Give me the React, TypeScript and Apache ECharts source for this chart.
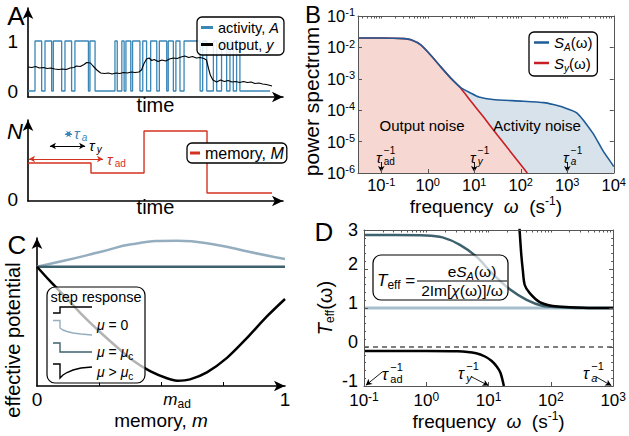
import React, { useEffect, useRef } from 'react';
import * as echarts from 'echarts';

const FONT = '"Liberation Sans", Arial, sans-serif';

// ===== Panel A (top): two-state activity A(t) and output y(t) =====
const activityTime = [0, 2.75, 5.36, 6.67, 9.28, 9.93, 13.2, 14.5, 17.1, 18.4, 23.7, 24.3, 26.3, 34.1, 35.0, 36.8, 37.7, 38.4, 40.3, 41.0, 43.9, 45.0, 46.5, 48.1, 50.5, 51.5, 54.4, 55.0, 57.0, 58.0, 59.6, 61.2, 67.5, 68.5, 70.1, 72.7, 74.0, 75.9, 77.9, 79.2, 80.5, 81.8, 83.1, 94.9];
const activityState = [0, 1, 0, 1, 0, 1, 0, 1, 0, 1, 0, 1, 0, 1, 0, 1, 0, 1, 0, 1, 0, 1, 0, 1, 0, 1, 0, 1, 0, 1, 0, 1, 0, 1, 0, 1, 0, 1, 0, 1, 0, 1, 0, 0];
const outputTime = [0, 1.5, 3, 4.5, 6, 7.5, 9, 10.5, 12, 13.5, 15, 16.5, 18, 19, 20.5, 22, 23, 24.5, 25.5, 27, 28.5, 30, 31.5, 33, 34.5, 36, 37.5, 39, 40.5, 42, 43.5, 44.5, 45.5, 46.5, 47.5, 48.5, 49.5, 51, 52.5, 54, 55.5, 57, 58.5, 60, 61.5, 63, 64.5, 66, 67.5, 69, 70, 70.8, 71.5, 72.5, 74, 75.5, 77, 78.5, 80, 81.5, 83, 84.5, 86, 87.5, 89, 90.5, 92, 93.5, 95.7];
const outputValue = [0.48, 0.47, 0.49, 0.46, 0.47, 0.45, 0.46, 0.44, 0.43, 0.44, 0.43, 0.46, 0.47, 0.50, 0.49, 0.53, 0.57, 0.56, 0.50, 0.42, 0.36, 0.35, 0.36, 0.34, 0.36, 0.35, 0.37, 0.36, 0.38, 0.37, 0.38, 0.42, 0.55, 0.64, 0.66, 0.61, 0.63, 0.59, 0.62, 0.60, 0.64, 0.66, 0.65, 0.68, 0.70, 0.67, 0.69, 0.66, 0.67, 0.65, 0.62, 0.45, 0.32, 0.22, 0.18, 0.22, 0.19, 0.21, 0.18, 0.19, 0.17, 0.19, 0.17, 0.18, 0.15, 0.16, 0.14, 0.13, 0.10];

// ===== Panel A (bottom): memory M(t) =====
const memoryTime = [0, 24.7, 45.5, 70.2, 95.7];
const memoryValue = [3.6, 2.6, 6.8, 0.6, 0.6];
// timescale arrows [t0, t1, level]
const tauAdArrow = [0.4, 29.4, 4.0];
const tauYArrow = [8.6, 22.4, 5.3];
const tauAArrow = [14.5, 17.3, 6.5];

// ===== Panel B: power spectra (log10 omega, log10 S) =====
const bLogOmegaA = [-1.5, -1, -0.5, -0.36, -0.15, 0.06, 0.28, 0.49, 0.71, 0.92, 1.1, 1.4, 2.0, 2.5, 2.7, 2.9, 3.21, 3.55, 3.76, 3.98, 4.0];
const bLogSA = [-1.70, -1.70, -1.72, -1.76, -1.92, -2.24, -2.62, -2.97, -3.28, -3.45, -3.58, -3.66, -3.71, -3.76, -3.82, -3.90, -4.09, -4.73, -5.27, -5.75, -5.80];
const bLogOmegaY = [-1.5, -1, -0.5, -0.36, -0.15, 0.06, 0.28, 0.49, 0.71, 0.92, 1.2, 1.5, 1.8, 2.14];
const bLogSy = [-1.70, -1.70, -1.72, -1.76, -1.92, -2.24, -2.62, -2.97, -3.30, -3.70, -4.22, -4.80, -5.36, -6.0];
const bDecadesX = [-1, 0, 1, 2, 3, 4];
const bMarkerOmega = [-1, 1, 3];

// ===== Panel C: effective potential vs memory m =====
const cMBlack = [0, 0.052, 0.121, 0.185, 0.254, 0.323, 0.387, 0.456, 0.524, 0.565, 0.617, 0.685, 0.766, 0.847, 0.927, 1];
const cPotAbove = [0.806, 0.71, 0.59, 0.475, 0.365, 0.262, 0.172, 0.100, 0.052, 0.036, 0.045, 0.092, 0.190, 0.325, 0.47, 0.588];
const cMLight = [0, 0.121, 0.254, 0.387, 0.565, 0.726, 0.859, 1];
const cPotZero = [0.806, 0.851, 0.905, 0.959, 0.982, 0.953, 0.905, 0.858];
const cMFlat = [0, 1];
const cPotCritical = [0.806, 0.806];
const cTicks = [0.25, 0.5, 0.75];
const cLabels = [0, 0.565, 1];

// ===== Panel D: T_eff(omega) =====
const dFlatOmega = [-1, 3];
const dZero = [0, 0];
const dUnit = [1, 1];
const dOmegaTeal = [-1, -0.5, 0, 0.26, 0.54, 0.81, 1.06, 1.34, 1.61, 1.86, 2.14, 2.46, 3];
const dTeal = [2.87, 2.87, 2.86, 2.81, 2.62, 2.31, 1.88, 1.48, 1.21, 1.06, 1.02, 1.0, 1.0];
const dOmegaHigh = [1.496, 1.523, 1.549, 1.58, 1.66, 1.82, 2.03, 2.30, 2.66, 3];
const dHigh = [3.04, 2.40, 1.97, 1.59, 1.38, 1.15, 1.05, 1.02, 1.0, 1.0];
const dOmegaLow = [-1, 0, 0.5, 0.8, 0.95, 1.05, 1.13, 1.19, 1.245];
const dLow = [-0.1, -0.1, -0.11, -0.16, -0.25, -0.36, -0.5, -0.66, -1.0];

const C_ACT = '#3a86b6';
const C_MEM = '#d3321f';
const C_BLUE = '#1f5c97';
const C_RED = '#c71f24';
const FILL_BLUE = '#d7e2eb';
const FILL_PINK = '#f6d7d1';
const C_LIGHT = '#94aebf';
const C_TEAL = '#3e616e';
const FRAME = '#555';

const zip = (xs: number[], ys: number[]) => xs.map((x, i) => [x, ys[i]]);

const logMinor = (lo: number, hi: number) => {
  const out: number[] = [];
  for (let n = Math.floor(lo); n <= Math.ceil(hi); n++) {
    for (let k = 1; k < 10; k++) {
      const v = n + Math.log10(k);
      if (v >= lo - 1e-9 && v <= hi + 1e-9) out.push(+v.toFixed(4));
    }
  }
  return out;
};

const powRich = (fs: number) => ({
  b: { fontSize: fs, fontFamily: FONT, color: '#000', lineHeight: fs + 2 },
  s: { fontSize: Math.round(fs * 0.68), fontFamily: FONT, color: '#000', verticalAlign: 'top', lineHeight: Math.round(fs * 0.68) + 1 },
});
const powLabel = (v: number) => `{b|10}{s|${Math.round(v)}}`;

const nameRich = (fs: number) => ({
  r: { fontSize: fs, fontFamily: FONT, color: '#000', lineHeight: fs + 3 },
  i: { fontSize: fs, fontFamily: FONT, fontStyle: 'italic', color: '#000', lineHeight: fs + 3 },
  sp: { fontSize: Math.round(fs * 0.62), fontFamily: FONT, color: '#000', verticalAlign: 'top', lineHeight: Math.round(fs * 0.62) + 2 },
  sb: { fontSize: Math.round(fs * 0.62), fontFamily: FONT, color: '#000', verticalAlign: 'bottom', lineHeight: Math.round(fs * 0.62) + 2 },
});

const arrowAxisLine = { show: true, onZero: false, symbol: ['none', 'arrow'], symbolSize: [8, 11], lineStyle: { color: '#000', width: 1.6 } };
const frameLine = { show: true, onZero: false, lineStyle: { color: FRAME, width: 1 } };
const noSplit = { show: false };

const txt = (text: string, x: number, y: number, fs: number, opts: any = {}) => ({
  type: 'text', z: 100, x, y, rotation: opts.rotation || 0,
  style: {
    text, x: 0, y: 0, fill: opts.color || '#000', fontSize: fs, fontFamily: FONT,
    fontStyle: opts.italic ? 'italic' : 'normal',
    textAlign: opts.align || 'center', textVerticalAlign: 'middle',
    rich: opts.rich,
  },
});

const tau = (x: number, y: number, sub: string, subItalic: boolean, sup: string | null, color: string, fs: number) => {
  const sfs = Math.round(fs * 0.68);
  const children: any[] = [
    { type: 'text', z: 100, style: { text: 'τ', x: 0, y: 0, fill: color, fontSize: fs, fontStyle: 'italic', fontFamily: FONT, textAlign: 'left', textVerticalAlign: 'middle' } },
    { type: 'text', z: 100, style: { text: sub, x: fs * 0.52, y: fs * 0.33, fill: color, fontSize: sfs, fontStyle: subItalic ? 'italic' : 'normal', fontFamily: FONT, textAlign: 'left', textVerticalAlign: 'middle' } },
  ];
  if (sup) children.push({ type: 'text', z: 100, style: { text: sup, x: fs * 0.52, y: -fs * 0.45, fill: color, fontSize: sfs, fontFamily: FONT, textAlign: 'left', textVerticalAlign: 'middle' } });
  return { type: 'group', x, y, z: 100, children };
};

const pl = (points: number[][], color: string, w = 1.4) => ({
  type: 'polyline', z: 101, shape: { points }, style: { stroke: color, lineWidth: w, fill: 'none' },
});

const smallRich = (fs: number) => ({
  r: { fontSize: fs, fontFamily: FONT, color: '#000', lineHeight: fs + 5 },
  i: { fontSize: fs, fontFamily: FONT, fontStyle: 'italic', color: '#000', lineHeight: fs + 5 },
  s: { fontSize: Math.round(fs * 0.68), fontFamily: FONT, color: '#000', verticalAlign: 'bottom', lineHeight: Math.round(fs * 0.68) + 1 },
  si: { fontSize: Math.round(fs * 0.68), fontFamily: FONT, fontStyle: 'italic', color: '#000', verticalAlign: 'bottom', lineHeight: Math.round(fs * 0.68) + 1 },
});

function buildOption(): any {
  const legendBase = {
    orient: 'vertical', icon: 'rect', selectedMode: false,
    borderColor: '#000', borderWidth: 1.3, borderRadius: 5,
  };
  const cLabelRich = {
    ...smallRich(17),
    big: { fontSize: 19, fontFamily: FONT, color: '#000', lineHeight: 22 },
  };
  const dYRich = {
    t: { fontSize: 18, fontFamily: FONT, color: '#000', lineHeight: 20 },
    v: { fontSize: 18, fontFamily: FONT, color: '#000', lineHeight: 20, padding: [0, 0, 10, 0] },
  };
  return {
    animation: false,
    textStyle: { fontFamily: FONT },
    grid: [
      { left: 28, top: 8, width: 255, height: 89 },
      { left: 28, top: 120, width: 255, height: 81 },
      { left: 358, top: 16, width: 256, height: 157 },
      { left: 37, top: 238, width: 248, height: 148 },
      { left: 364, top: 230, width: 250, height: 156 },
    ],
    legend: [
      {
        ...legendBase, data: ['activity', 'output'], left: 197, top: 17,
        itemWidth: 12, itemHeight: 3, itemGap: 2, padding: [3, 5, 3, 4],
        backgroundColor: 'rgba(255,255,255,0.85)',
        formatter: (n: string) => (n === 'activity' ? 'activity, {i|A}' : 'output, {i|y}'),
        textStyle: { fontSize: 14.5, fontFamily: FONT, color: '#000', rich: { i: { fontSize: 14.5, fontStyle: 'italic', fontFamily: FONT, color: '#000' } } },
      },
      {
        ...legendBase, data: ['memory'], left: 187, top: 143,
        itemWidth: 10, itemHeight: 3, padding: [2, 3, 2, 3],
        backgroundColor: '#fff',
        formatter: () => 'memory, {i|M}',
        textStyle: { fontSize: 16, fontFamily: FONT, color: '#000', rich: { i: { fontSize: 16, fontStyle: 'italic', fontFamily: FONT, color: '#000' } } },
      },
      {
        ...legendBase, data: ['S_A', 'S_y'], left: 529, top: 32,
        itemWidth: 15, itemHeight: 2.5, itemGap: 3, padding: [3, 5, 3, 5],
        backgroundColor: '#fff',
        formatter: (n: string) => (n === 'S_A' ? '{i|S}{s|A}{r|(ω)}' : '{i|S}{s|y}{r|(ω)}'),
        textStyle: {
          fontSize: 15, fontFamily: FONT, color: '#000',
          rich: {
            i: { fontSize: 15, fontStyle: 'italic', fontFamily: FONT, color: '#000', lineHeight: 20 },
            r: { fontSize: 15, fontFamily: FONT, color: '#000', lineHeight: 20 },
            s: { fontSize: 10, fontStyle: 'italic', fontFamily: FONT, color: '#000', verticalAlign: 'bottom', lineHeight: 11 },
          },
        },
      },
    ],
    xAxis: [
      {
        gridIndex: 0, type: 'value', min: 0, max: 100, axisLine: arrowAxisLine,
        axisTick: { show: false }, axisLabel: { show: false }, splitLine: noSplit,
        name: 'time', nameLocation: 'middle', nameGap: -2, nameMoveOverlap: false,
        nameTextStyle: { fontSize: 20, fontFamily: FONT, color: '#000', verticalAlign: 'top' },
      },
      {
        gridIndex: 1, type: 'value', min: 0, max: 100, axisLine: arrowAxisLine,
        axisTick: { show: false }, axisLabel: { show: false }, splitLine: noSplit,
        name: 'time', nameLocation: 'middle', nameGap: -4, nameMoveOverlap: false,
        nameTextStyle: { fontSize: 20, fontFamily: FONT, color: '#000', verticalAlign: 'top' },
      },
      {
        gridIndex: 2, type: 'value', min: -1.5, max: 4, position: 'bottom', z: 5,
        axisLine: frameLine,
        axisTick: { show: true, inside: true, length: 4, customValues: bDecadesX, lineStyle: { color: FRAME } },
        axisLabel: { customValues: bDecadesX, formatter: powLabel, margin: 3, rich: powRich(16.5) },
        splitLine: noSplit,
        name: '{r|frequency  }{i|ω}{r|  (s}{sp|-1}{r|)}', nameLocation: 'middle', nameGap: 22, nameMoveOverlap: false,
        nameTextStyle: { fontSize: 19, fontFamily: FONT, color: '#000', rich: nameRich(19) },
      },
      {
        gridIndex: 2, type: 'value', min: -1.5, max: 4, position: 'top', z: 5,
        axisLine: frameLine,
        axisTick: { show: true, inside: true, length: 2.5, customValues: logMinor(-1.5, 4), lineStyle: { color: FRAME } },
        axisLabel: { show: false }, splitLine: noSplit,
      },
      {
        gridIndex: 3, type: 'value', min: 0, max: 1, axisLine: arrowAxisLine,
        axisTick: { show: true, inside: true, length: 4, customValues: cTicks, lineStyle: { color: '#000' } },
        axisLabel: {
          customValues: cLabels, margin: 2, fontSize: 19, color: '#000',
          formatter: (v: number) => (v === 0 ? '{big|0}' : v === 1 ? '{big|1}' : '{i|m}{s|ad}'),
          rich: cLabelRich,
        },
        splitLine: noSplit,
        name: '{r|memory, }{i|m}', nameLocation: 'middle', nameGap: 23, nameMoveOverlap: false,
        nameTextStyle: { fontSize: 19, fontFamily: FONT, color: '#000', rich: nameRich(19) },
      },
      {
        gridIndex: 4, type: 'value', min: -1, max: 3, interval: 1, position: 'bottom', z: 5,
        axisLine: frameLine,
        axisTick: { show: true, inside: true, length: 4, lineStyle: { color: FRAME } },
        axisLabel: { formatter: powLabel, margin: 5, rich: powRich(17) },
        splitLine: noSplit,
        name: '{r|frequency  }{i|ω}{r|  (s}{sp|-1}{r|)}', nameLocation: 'middle', nameGap: 24, nameMoveOverlap: false,
        nameTextStyle: { fontSize: 19, fontFamily: FONT, color: '#000', rich: nameRich(19) },
      },
      {
        gridIndex: 4, type: 'value', min: -1, max: 3, position: 'top', z: 5,
        axisLine: frameLine,
        axisTick: { show: true, inside: true, length: 2.5, customValues: logMinor(-1, 3), lineStyle: { color: FRAME } },
        axisLabel: { show: false }, splitLine: noSplit,
      },
    ],
    yAxis: [
      {
        gridIndex: 0, type: 'value', min: -0.12, max: 1.66, axisLine: arrowAxisLine,
        axisTick: { show: false },
        axisLabel: { customValues: [0, 1], fontSize: 19, color: '#000', margin: 10, fontFamily: FONT },
        splitLine: noSplit,
      },
      {
        gridIndex: 1, type: 'value', min: -0.2, max: 7.9, axisLine: arrowAxisLine,
        axisTick: { show: false },
        axisLabel: { customValues: [0], fontSize: 19, color: '#000', margin: 10, fontFamily: FONT },
        splitLine: noSplit,
      },
      {
        gridIndex: 2, type: 'value', min: -6, max: -1, interval: 1, position: 'left', z: 5,
        axisLine: frameLine,
        axisTick: { show: true, inside: true, length: 4, lineStyle: { color: FRAME } },
        axisLabel: { formatter: powLabel, margin: 3, rich: powRich(16.5) },
        splitLine: noSplit,
        name: 'power spectrum', nameLocation: 'middle', nameRotate: 90, nameGap: 36, nameMoveOverlap: false,
        nameTextStyle: { fontSize: 21, fontFamily: FONT, color: '#000', padding: [0, 14, 0, 0] },
      },
      {
        gridIndex: 2, type: 'value', min: -6, max: -1, interval: 1, position: 'right', z: 5,
        axisLine: frameLine,
        axisTick: { show: true, inside: true, length: 4, lineStyle: { color: FRAME } },
        axisLabel: { show: false }, splitLine: noSplit,
      },
      {
        gridIndex: 3, type: 'value', min: 0, max: 1, axisLine: arrowAxisLine,
        axisTick: { show: false }, axisLabel: { show: false }, splitLine: noSplit,
      },
      {
        gridIndex: 4, type: 'value', min: -1, max: 3, interval: 1, position: 'left', z: 5,
        axisLine: frameLine,
        axisTick: { show: true, inside: true, length: 4, lineStyle: { color: FRAME } },
        minorTick: { show: true, splitNumber: 5, length: 2, lineStyle: { color: FRAME } },
        axisLabel: {
          margin: 6, rich: dYRich,
          formatter: (v: number) => (v === 3 ? '{t|3}' : `{v|${v < 0 ? '-' + -v : v}}`),
        },
        splitLine: noSplit,
        name: '{i|T}{sb|eff}{r|(ω)}', nameLocation: 'middle', nameRotate: 90, nameGap: 28, nameMoveOverlap: false,
        nameTextStyle: { fontSize: 20, fontFamily: FONT, color: '#000', rich: nameRich(20) },
      },
      {
        gridIndex: 4, type: 'value', min: -1, max: 3, interval: 1, position: 'right', z: 5,
        axisLine: frameLine,
        axisTick: { show: true, inside: true, length: 4, lineStyle: { color: FRAME } },
        minorTick: { show: true, splitNumber: 5, length: 2, lineStyle: { color: FRAME } },
        axisLabel: { show: false }, splitLine: noSplit,
      },
    ],
    series: [
      // ---- A top
      {
        name: 'activity', type: 'line', xAxisIndex: 0, yAxisIndex: 0, step: 'end', symbol: 'none',
        data: zip(activityTime, activityState), lineStyle: { color: C_ACT, width: 1.3 }, itemStyle: { color: C_ACT }, z: 2,
      },
      {
        name: 'output', type: 'line', xAxisIndex: 0, yAxisIndex: 0, symbol: 'none',
        data: zip(outputTime, outputValue), lineStyle: { color: '#000', width: 1.1 }, itemStyle: { color: '#000' }, z: 3,
      },
      // ---- A bottom
      {
        name: 'memory', type: 'line', xAxisIndex: 1, yAxisIndex: 1, step: 'end', symbol: 'none',
        data: zip(memoryTime, memoryValue), lineStyle: { color: C_MEM, width: 1.4 }, itemStyle: { color: C_MEM },
        markLine: {
          silent: true, symbol: ['arrow', 'arrow'], symbolSize: [5, 6], label: { show: false },
          lineStyle: { type: 'solid', width: 1 },
          data: [
            [{ coord: [tauAdArrow[0], tauAdArrow[2]], lineStyle: { color: C_MEM, type: 'solid', width: 1 } }, { coord: [tauAdArrow[1], tauAdArrow[2]] }],
            [{ coord: [tauYArrow[0], tauYArrow[2]], lineStyle: { color: '#000', type: 'solid', width: 1 } }, { coord: [tauYArrow[1], tauYArrow[2]] }],
            [{ coord: [tauAArrow[0], tauAArrow[2]], lineStyle: { color: C_ACT, type: 'solid', width: 1 } }, { coord: [tauAArrow[1], tauAArrow[2]] }],
          ],
        },
      },
      // ---- B
      {
        name: 'S_A fill', type: 'line', xAxisIndex: 2, yAxisIndex: 2, symbol: 'none', smooth: 0.2, silent: true,
        data: zip(bLogOmegaA, bLogSA), lineStyle: { width: 0, opacity: 0 },
        areaStyle: { color: FILL_BLUE, opacity: 1, origin: 'start' }, z: 1,
      },
      {
        name: 'S_y fill', type: 'line', xAxisIndex: 2, yAxisIndex: 2, symbol: 'none', smooth: 0.2, silent: true,
        data: zip(bLogOmegaY, bLogSy), lineStyle: { width: 0, opacity: 0 },
        areaStyle: { color: FILL_PINK, opacity: 1, origin: 'start' }, z: 1,
      },
      {
        name: 'S_y', type: 'line', xAxisIndex: 2, yAxisIndex: 2, symbol: 'none', smooth: 0.2,
        data: zip(bLogOmegaY, bLogSy), lineStyle: { color: C_RED, width: 1.6 }, itemStyle: { color: C_RED }, z: 2,
      },
      {
        name: 'S_A', type: 'line', xAxisIndex: 2, yAxisIndex: 2, symbol: 'none', smooth: 0.2,
        data: zip(bLogOmegaA, bLogSA), lineStyle: { color: C_BLUE, width: 1.6 }, itemStyle: { color: C_BLUE }, z: 3,
        markLine: {
          silent: true, symbol: ['none', 'arrow'], symbolSize: [5, 6], label: { show: false },
          lineStyle: { color: '#000', type: 'solid', width: 0.9 },
          data: bMarkerOmega.map((w) => [{ coord: [w, -5.65] }, { coord: [w, -5.97] }]),
        },
      },
      // ---- C
      {
        name: 'μ = 0', type: 'line', xAxisIndex: 4, yAxisIndex: 4, symbol: 'none', smooth: true,
        data: zip(cMLight, cPotZero), lineStyle: { color: C_LIGHT, width: 2.5 }, itemStyle: { color: C_LIGHT },
      },
      {
        name: 'μ = μc', type: 'line', xAxisIndex: 4, yAxisIndex: 4, symbol: 'none',
        data: zip(cMFlat, cPotCritical), lineStyle: { color: C_TEAL, width: 2.5 }, itemStyle: { color: C_TEAL },
      },
      {
        name: 'μ > μc', type: 'line', xAxisIndex: 4, yAxisIndex: 4, symbol: 'none', smooth: 0.3,
        data: zip(cMBlack, cPotAbove), lineStyle: { color: '#000', width: 2.5 }, itemStyle: { color: '#000' },
      },
      // ---- D
      {
        name: 'zero', type: 'line', xAxisIndex: 5, yAxisIndex: 5, symbol: 'none',
        data: zip(dFlatOmega, dZero), lineStyle: { color: '#000', width: 1.2, type: [5, 4] },
        markLine: {
          silent: true, symbol: ['none', 'arrow'], symbolSize: [5, 6], label: { show: false },
          lineStyle: { color: '#000', type: 'solid', width: 0.9 },
          data: [
            [{ coord: [-0.70, -0.63] }, { coord: [-0.97, -0.98] }],
            [{ coord: [0.72, -0.76] }, { coord: [1.0, -0.99] }],
            [{ coord: [2.72, -0.76] }, { coord: [2.97, -0.99] }],
          ],
        },
      },
      {
        name: 'T_eff μ = 0', type: 'line', xAxisIndex: 5, yAxisIndex: 5, symbol: 'none',
        data: zip(dFlatOmega, dUnit), lineStyle: { color: '#a7bfcd', width: 3 },
      },
      {
        name: 'T_eff μ = μc', type: 'line', xAxisIndex: 5, yAxisIndex: 5, symbol: 'none', smooth: 0.3,
        data: zip(dOmegaTeal, dTeal), lineStyle: { color: C_TEAL, width: 2.5 },
      },
      {
        name: 'T_eff μ > μc (high)', type: 'line', xAxisIndex: 5, yAxisIndex: 5, symbol: 'none', smooth: 0.3,
        data: zip(dOmegaHigh, dHigh), lineStyle: { color: '#000', width: 2.5 },
      },
      {
        name: 'T_eff μ > μc (low)', type: 'line', xAxisIndex: 5, yAxisIndex: 5, symbol: 'none', smooth: 0.3,
        data: zip(dOmegaLow, dLow), lineStyle: { color: '#000', width: 2.5 },
      },
    ],
    graphic: {
      elements: [
        // panel letters
        txt('A', 16, 16, 26),
        txt('B', 313, 14, 24),
        txt('C', 17, 245, 26),
        txt('D', 324, 232, 26),
        // A bottom
        txt('N', 15, 131, 22, { italic: true }),
        tau(74, 133, 'a', true, null, C_ACT, 15),
        tau(89, 145, 'y', true, null, '#000', 15),
        tau(107, 159, 'ad', false, null, C_MEM, 15),
        // B
        txt('Output noise', 422, 125, 15),
        txt('Activity noise', 537, 125, 15),
        tau(376, 157, 'ad', false, '−1', '#000', 15),
        tau(470, 157, 'y', true, '−1', '#000', 15),
        tau(563, 157, 'a', true, '−1', '#000', 15),
        // C
        txt('effective potential', 13, 340, 20, { rotation: Math.PI / 2 }),
        {
          type: 'rect', z: 100, shape: { x: 47, y: 287, width: 98, height: 96, r: 8 },
          style: { fill: 'rgba(255,255,255,0.7)', stroke: '#000', lineWidth: 1.2 },
        },
        txt('step response', 96, 297, 14.5),
        pl([[53, 313], [60, 313], [60, 307], [92, 307]], '#000'),
        pl([[53, 320.5], [60, 320.5], [60, 328], [63, 330], [67, 331.5], [73, 333], [81, 334], [92, 335]], C_LIGHT),
        pl([[53, 343], [60, 343], [60, 352], [92, 352]], C_TEAL),
        pl([[53, 364], [60, 364], [60, 378], [63, 375], [67, 372.5], [73, 370], [81, 368], [92, 367]], '#000'),
        txt('{i|μ}{r| = 0}', 97, 325, 14, { align: 'left', rich: smallRich(14) }),
        txt('{i|μ}{r| = }{i|μ}{s|c}', 97, 352, 14, { align: 'left', rich: smallRich(14) }),
        txt('{i|μ}{r| > }{i|μ}{s|c}', 97, 372, 14, { align: 'left', rich: smallRich(14) }),
        // D
        {
          type: 'rect', z: 100, shape: { x: 373, y: 255, width: 135, height: 45, r: 8 },
          style: { fill: 'rgba(255,255,255,0.7)', stroke: '#000', lineWidth: 1.2 },
        },
        txt('{i|T}{s|eff}{r| =}', 377, 280, 17, { align: 'left', rich: smallRich(17) }),
        txt('{r|e}{i|S}{si|A}{r|(ω)}', 472, 271, 15.5, { rich: smallRich(15.5) }),
        { type: 'line', z: 101, shape: { x1: 417, y1: 281, x2: 507, y2: 281 }, style: { stroke: '#000', lineWidth: 1 } },
        txt('{r|2Im[}{i|χ}{r|(ω)]/ω}', 462, 290, 15.5, { rich: smallRich(15.5) }),
        tau(382, 374, 'ad', false, '−1', '#000', 16),
        tau(458, 373, 'y', true, '−1', '#000', 16),
        tau(583, 373, 'a', true, '−1', '#000', 16),
      ],
    },
  };
}

export default function App() {
  const ref = useRef<HTMLDivElement>(null);
  useEffect(() => {
    if (!ref.current) return;
    const chart = echarts.init(ref.current, null, { renderer: 'svg' });
    chart.setOption(buildOption());
    return () => chart.dispose();
  }, []);
  return (
    <div
      ref={ref}
      style={{ position: 'fixed', left: 0, top: 0, width: 629, height: 436, background: '#fff' }}
    />
  );
}
